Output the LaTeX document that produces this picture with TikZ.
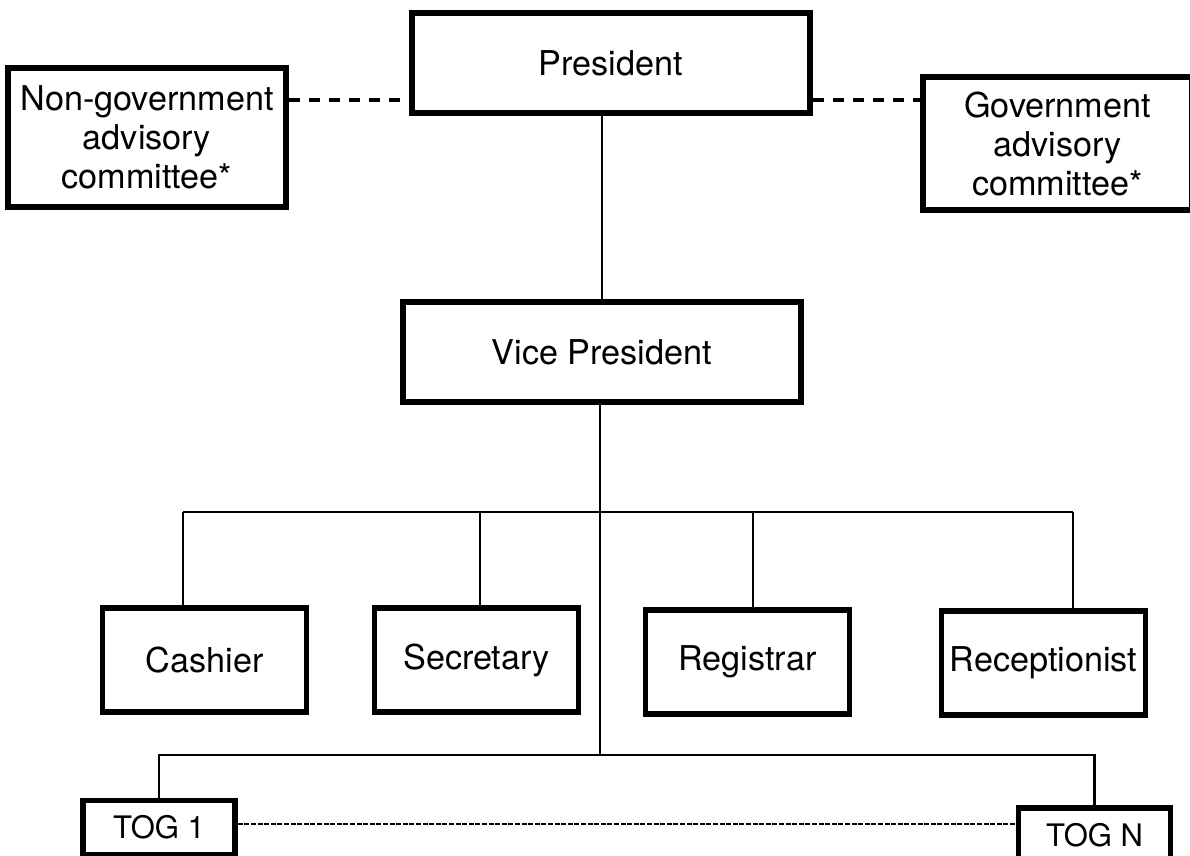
\documentclass[tikz,border=0pt]{standalone}
\usepackage{fontspec}
\setmainfont{TeX Gyre Heros}

\begin{document}
\begin{tikzpicture}[
  x=0.5pt,
  y=-0.5pt,
  box/.style={draw=black, line width=2.8pt, inner sep=1pt, align=center,
              font=\fontsize{17.1}{19.5}\selectfont},
  headbox/.style={box, minimum width=199pt, minimum height=50pt},
  advbox/.style={box, minimum width=136pt, minimum height=68pt},
  staffbox/.style={box, minimum width=102pt, minimum height=52pt},
  togbox/.style={box, minimum width=76pt, minimum height=27pt,
                 font=\fontsize{15.5}{18}\selectfont},
  tie/.style={line width=1.4pt},
  advline/.style={line width=2.3pt, dash pattern=on 5.5pt off 4.5pt},
  togline/.style={line width=1.1pt, dash pattern=on 2.5pt off 0.8pt}
]
  % Page frame: 1190 x 856 units, boxes at the edge are cut off
  \useasboundingbox (0,0) rectangle (1190,856);
  \clip (0,0) rectangle (1190,856);

  % Top level
  \node[headbox] (pres) at (611, 63) {President};
  \node[advbox, minimum width=139pt, minimum height=69.5pt] (ngac) at (147, 137.5)
    {Non-government\\advisory\\committee*};
  \node[advbox, minimum width=134.5pt, minimum height=66.5pt] (gac) at (1057.5, 143.5)
    {Government\\advisory\\committee*};
  \node[headbox] (vp) at (602, 352) {Vice President};

  % Staff row
  \node[staffbox] (cash) at (204.5, 660) {Cashier};
  \node[staffbox] (secr) at (476.5, 660) {Secretary};
  \node[staffbox] (regi) at (747.5, 662) {Registrar};
  \node[staffbox] (recp) at (1043.5, 663) {Receptionist};

  % TOG row
  \node[togbox] (togA) at (159, 827.5) {TOG 1};
  \node[togbox] (togN) at (1094.5, 835) {TOG N};

  % Bus levels and dashed levels
  \coordinate (busA) at (600, 512);
  \coordinate (busB) at (600, 755);
  \coordinate (advy) at (0, 100);
  \coordinate (togy) at (0, 824);

  % Advisory links
  \draw[advline] (ngac.east |- advy) -- (pres.west |- advy);
  \draw[advline] (pres.east |- advy) -- (gac.west |- advy);

  % President to vice president, then down to both buses
  \draw[tie] (vp.north |- pres.south) -- (vp.north);
  \draw[tie] ([xshift=-1pt]vp.south) -- ([xshift=-1pt]vp.south |- busB);

  % Staff bus and drops
  \draw[tie] ([xshift=-10.75pt]cash.north |- busA) -- ([xshift=14.75pt]recp.north |- busA);
  \foreach \n/\dx in {cash/-10.75, secr/1.75, regi/2.75, recp/14.75} {
    \draw[tie] ([xshift=\dx pt]\n.north |- busA) -- ([xshift=\dx pt]\n.north);
  }

  % TOG bus and drops
  \draw[tie] (togA.north) |- (busB) -| (togN.north);
  \draw[togline] (togA.east |- togy) -- (togN.west |- togy);
\end{tikzpicture}
\end{document}
